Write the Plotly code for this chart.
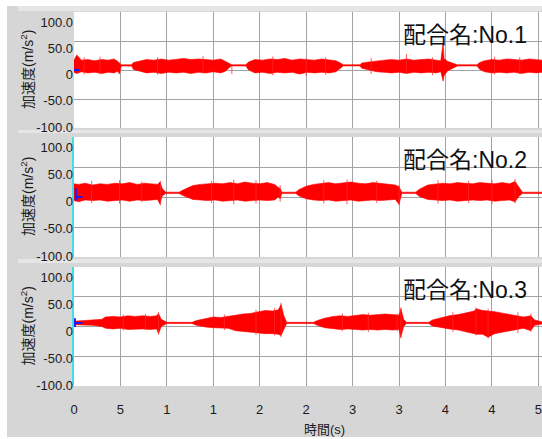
import plotly.graph_objects as go

# ---------------- data ----------------
x_tickvals = [0, 5, 10, 15, 20, 25, 30, 35, 40, 45, 50]
x_ticktext = ["0", "5", "1", "1", "2", "2", "3", "3", "4", "4", "5"]
y_tickvals = [100, 50, 0, -50, -100]
y_ticktext = ["100.0", "50.0", "0", "-50.0", "-100.0"]
panel_names = ["配合名:No.1", "配合名:No.2", "配合名:No.3"]
y_title = "加速度(m/s<sup>2</sup>)"
x_title = "時間(s)"

# envelope of the red acceleration band (time s, upper, lower)
t1 = [0.0, 0.3, 0.8, 1.5, 2.2, 3.0, 3.7, 4.3, 4.7, 4.9, 5.1, 6.2, 6.4, 7.0, 7.8, 8.6, 9.4, 10.2, 11.0,
      11.8, 12.6, 13.4, 14.2, 15.0, 15.8, 16.3, 16.8, 17.0, 18.5, 18.8, 19.5, 20.3, 21.1, 21.9, 22.7,
      23.5, 24.3, 25.1, 25.9, 26.7, 27.5, 28.2, 28.7, 29.0, 30.8, 31.0, 31.8, 32.6, 33.4, 34.2, 35.0,
      35.8, 36.6, 37.4, 38.2, 39.0, 39.5, 39.75, 39.85, 40.2, 40.8, 41.3, 43.4, 43.7, 44.2, 45.0, 45.8,
      46.6, 47.4, 48.2, 49.0, 49.8, 50.4]
up1 = [17, 26, 17, 18, 16, 18, 17, 19, 15, 12, 9, 9, 13, 15, 18, 17, 19, 17, 18,
       20, 18, 19, 18, 17, 19, 15, 10, 9, 9, 14, 18, 17, 19, 18, 20,
       17, 19, 18, 17, 19, 18, 16, 12, 9, 9, 12, 14, 16, 17, 18, 17,
       19, 17, 18, 19, 17, 16, 47, 20, 15, 12, 9, 9, 13, 16, 18, 17,
       19, 18, 17, 19, 18, 17]
lo1 = [-4, -6, -3, -5, -4, -6, -4, -5, -2, -7, 7, 7, 1, -2, -5, -4, -6, -4, -5,
       -4, -6, -4, -5, -3, -5, -2, 5, 7, 7, 0, -5, -4, -6, -4, -5,
       -4, -7, -4, -5, -4, -5, -3, 3, 7, 7, 3, 0, -3, -4, -5, -4,
       -6, -4, -5, -4, -5, -3, -19, -10, -2, 3, 7, 7, 1, -3, -5, -4,
       -5, -4, -6, -4, -5, -4]

t2 = [0.0, 0.5, 1.2, 2.0, 2.8, 3.6, 4.4, 5.2, 6.0, 6.8, 7.6, 8.4, 9.0, 9.26, 9.5, 9.9, 11.3, 11.8,
      12.8, 13.6, 14.4, 15.2, 16.0, 16.8, 17.6, 18.4, 19.2, 20.0, 20.8, 21.6, 22.0, 22.2, 22.4, 23.9,
      24.2, 25.0, 25.8, 26.6, 27.4, 28.2, 29.0, 29.8, 30.6, 31.4, 32.2, 33.0, 33.8, 34.6, 35.0, 35.3,
      36.8, 37.2, 38.1, 38.9, 39.7, 40.5, 41.3, 42.1, 42.9, 43.7, 44.5, 45.3, 46.1, 46.9, 47.5, 47.9,
      48.3, 50.4]
up2 = [22, 21, 23, 20, 22, 21, 23, 22, 24, 21, 23, 22, 21, 25, 14, 8, 8, 12,
       19, 21, 22, 23, 22, 24, 22, 25, 23, 22, 24, 21, 16, 14, 8, 8,
       12, 18, 21, 22, 24, 22, 23, 25, 23, 22, 24, 23, 22, 20, 17, 8,
       8, 13, 20, 22, 23, 22, 24, 23, 22, 24, 23, 22, 24, 22, 26, 16,
       8, 8]
lo2 = [-6, -8, -5, -6, -5, -7, -6, -5, -7, -5, -6, -5, -4, -12, 2, 6, 6, 2,
       -4, -5, -6, -5, -7, -6, -5, -7, -6, -5, -6, -5, 0, -3, 6, 6,
       2, -3, -5, -6, -5, -7, -6, -5, -7, -6, -5, -6, -5, -4, -12, 6,
       6, 1, -4, -5, -6, -5, -7, -6, -5, -6, -5, -7, -6, -5, -8, 1,
       6, 6]

t3 = [0.0, 1.0, 2.0, 3.0, 3.4, 4.2, 5.0, 5.8, 6.6, 7.4, 8.2, 8.9, 9.1, 9.4, 10.0, 12.7, 13.2, 14.2,
      15.0, 15.8, 16.6, 17.4, 18.2, 19.0, 19.8, 20.6, 21.4, 22.0, 22.3, 22.6, 22.9, 25.8, 26.2, 27.0,
      27.9, 28.7, 29.5, 30.3, 31.1, 31.9, 32.7, 33.5, 34.3, 35.0, 35.2, 35.5, 35.8, 38.2, 38.6, 39.6,
      40.4, 41.4, 42.2, 43.1, 43.3, 44.0, 44.6, 45.3, 46.3, 47.3, 48.4, 49.2, 49.6, 50.4]
up3 = [9, 10, 10, 12, 16, 17, 16, 18, 17, 18, 17, 18, 22, 12, 7, 7, 10, 14,
       16, 15, 17, 20, 21, 22, 25, 27, 26, 28, 37, 18, 7, 7, 10, 14,
       17, 18, 17, 19, 20, 19, 20, 21, 20, 19, 30, 12, 7, 7, 11, 15,
       18, 20, 23, 26, 30, 27, 26, 25, 22, 19, 16, 18, 11, 8]
lo3 = [3, 2, 2, 0, -3, -4, -3, -5, -4, -4, -5, -4, -12, 0, 5, 5, 2, -1,
       -2, -3, -3, -7, -8, -9, -11, -12, -12, -13, -15, -5, 5, 5, 2, -2,
       -4, -5, -4, -5, -6, -5, -6, -5, -6, -5, -18, 0, 5, 5, 1, -2,
       -4, -6, -9, -12, -13, -13, -18, -12, -9, -6, -3, -7, 2, 4]

# isolated thin peaks sticking out of the band (time, top, bottom)
spk1_t = [1.1, 2.8, 5.9, 9.0, 13.9, 17.0, 21.4, 25.0, 27.1, 32.0, 35.8, 38.6, 45.3, 48.0]
spk1_hi = [22, 23, 8, 22, 24, 8, 23, 20, 22, 21, 28, 22, 23, 22]
spk1_lo = [-8, -7, 5, -8, -6, -7, -9, -10, -8, -7, -6, -9, -8, -7]
spk2_t = [1.9, 4.9, 7.3, 9.3, 14.8, 17.2, 19.6, 22.2, 26.9, 29.4, 32.6, 35.0, 39.2, 42.5, 45.0, 47.5]
spk2_hi = [27, 28, 26, 27, 27, 29, 28, 20, 28, 29, 27, 20, 28, 27, 29, 30]
spk2_lo = [-10, -11, -9, -14, -10, -12, -11, -8, -11, -12, -10, -14, -11, -10, -12, -11]
spk3_t = [5.3, 7.7, 9.1, 16.2, 19.6, 21.6, 22.3, 28.9, 31.7, 34.8, 35.2, 40.8, 43.3, 44.6, 47.8, 49.2]
spk3_hi = [20, 21, 24, 20, 28, 31, 40, 22, 23, 22, 32, 24, 32, 30, 24, 22]
spk3_lo = [-7, -6, -14, -6, -14, -15, -18, -8, -9, -8, -20, -9, -15, -20, -11, -9]

# short blue trace at the very start of each record
blue_t = [[0.0, 0.0, 0.6], [0.2, 0.2, 0.2, 0.9], [0.1, 0.1, 0.1, 0.9]]
blue_v = [[2, 0, 0], [14, -6, 0, 0], [14, -1, 6, 6]]

envelopes = [(t1, up1, lo1), (t2, up2, lo2), (t3, up3, lo3)]
spikes = [(spk1_t, spk1_hi, spk1_lo), (spk2_t, spk2_hi, spk2_lo), (spk3_t, spk3_hi, spk3_lo)]

# ---------------- layout geometry ----------------
W, H = 542, 439
L, R, T, B = 74, 0, 12, 53
PW = W - L - R
PH = H - T - B
X_MAX = 50.4
panels_px = [(12, 128), (137, 257), (267, 386)]  # (top, bottom) in pixels


def px2x(px):
    return (px - L) / PW


def py2y(py):
    return (H - B - py) / PH


FONT = "Liberation Sans, Arial, Noto Sans CJK JP, sans-serif"
TXT = "#1a1a1a"
GRID = "#a3a3a3"

fig = go.Figure()

for i, (tt, up, lo) in enumerate(envelopes):
    n = i + 1
    xs = list(tt) + list(tt)[::-1]
    ys = list(up) + list(lo)[::-1]
    fig.add_trace(go.Scatter(x=xs, y=ys, mode="lines", fill="toself", fillcolor="#ff0000",
                             line=dict(color="#ff0000", width=0.6), xaxis=f"x{n}", yaxis=f"y{n}",
                             hoverinfo="skip", showlegend=False))
    st, sh, sl = spikes[i]
    sx, sy = [], []
    for a, hi, lo_ in zip(st, sh, sl):
        sx += [a, a, None]
        sy += [hi, lo_, None]
    fig.add_trace(go.Scatter(x=sx, y=sy, mode="lines", line=dict(color="rgba(255,40,40,0.75)", width=1),
                             xaxis=f"x{n}", yaxis=f"y{n}", hoverinfo="skip", showlegend=False))
    fig.add_trace(go.Scatter(x=blue_t[i], y=blue_v[i], mode="lines",
                             line=dict(color="#1a1aff", width=2), xaxis=f"x{n}", yaxis=f"y{n}",
                             hoverinfo="skip", showlegend=False))

layout = dict(width=W, height=H, margin=dict(l=L, r=R, t=T, b=B, pad=0, autoexpand=False),
              paper_bgcolor="#d6d6d6", plot_bgcolor="#ffffff", showlegend=False,
              font=dict(family=FONT, size=13, color=TXT))

for i, (top, bot) in enumerate(panels_px):
    n = i + 1
    dom = [py2y(bot), py2y(top)]
    last = (i == 2)
    layout[f"xaxis{n}"] = dict(domain=[0, 1], range=[0, X_MAX], anchor=f"y{n}",
                               tickvals=x_tickvals, ticktext=x_ticktext, automargin=False,
                               showticklabels=last, showgrid=True, gridcolor=GRID, gridwidth=1,
                               zeroline=False, showline=False, ticklabeloverflow="allow",
                               ticks="outside" if last else "", ticklen=11,
                               tickcolor="rgba(0,0,0,0)",
                               tickfont=dict(size=13, color=TXT, family=FONT))
    layout[f"yaxis{n}"] = dict(domain=dom, range=[-100, 100], anchor=f"x{n}", automargin=False,
                               tickvals=[-50, 0, 50], showticklabels=False,
                               showgrid=True, gridcolor=GRID, gridwidth=1,
                               zeroline=False,
                               showline=(i > 0), linecolor="#44dde8", linewidth=1.5)
    # label axis: tick texts spread from 10 px below top to 1 px above bottom
    hpx = bot - top
    u = 200.0 / (hpx - 11)
    layout[f"yaxis{n + 3}"] = dict(overlaying=f"y{n}", anchor=f"x{n}", side="left",
                                   range=[-100 - 1 * u, 100 + 10 * u], automargin=False,
                                   tickvals=y_tickvals, ticktext=y_ticktext,
                                   showgrid=False, zeroline=False, showline=False,
                                   ticklabeloverflow="allow",
                                   ticks="", tickfont=dict(size=13, color=TXT, family=FONT))

# dummy traces so label axes render
for n in range(4, 7):
    fig.add_trace(go.Scatter(x=[None], y=[None], xaxis=f"x{n - 3}", yaxis=f"y{n}",
                             showlegend=False, hoverinfo="skip"))

annotations = []
for i, (top, bot) in enumerate(panels_px):
    annotations.append(dict(text=panel_names[i], xref="paper", yref="paper",
                            x=px2x(529), y=py2y(top + 23), xanchor="right", yanchor="middle",
                            showarrow=False,
                            font=dict(size=23, color="#111111", family=FONT)))
    annotations.append(dict(text=y_title, xref="paper", yref="paper",
                            x=px2x(27), y=py2y((top + bot) / 2), xanchor="center",
                            yanchor="middle", textangle=-90, showarrow=False,
                            font=dict(size=14, color=TXT, family=FONT)))
annotations.append(dict(text=x_title, xref="paper", yref="paper", x=px2x(324), y=py2y(429),
                        xanchor="center", yanchor="middle", showarrow=False,
                        font=dict(size=13, color=TXT, family=FONT)))
layout["annotations"] = annotations

shapes = []
# white outer border
for (x0, x1, y0, y1) in [(0, 7, 0, H), (0, W, 0, 6), (0, W, 437, H)]:
    shapes.append(dict(type="rect", xref="paper", yref="paper", x0=px2x(x0), x1=px2x(x1),
                       y0=py2y(y1), y1=py2y(y0), fillcolor="#ffffff", line=dict(width=0),
                       layer="above"))
# lighter separator strips
for (y0, y1) in [(6, 11), (130, 133), (259, 263)]:
    shapes.append(dict(type="rect", xref="paper", yref="paper", x0=px2x(18), x1=px2x(W),
                       y0=py2y(y1), y1=py2y(y0), fillcolor="#e6e6e6", line=dict(width=0),
                       layer="below"))
layout["shapes"] = shapes

fig.update_layout(**layout)
fig.write_html("out.html", config={"displayModeBar": False},
               post_script="document.body.style.margin='0';"
                           "document.body.style.overflow='hidden';")
